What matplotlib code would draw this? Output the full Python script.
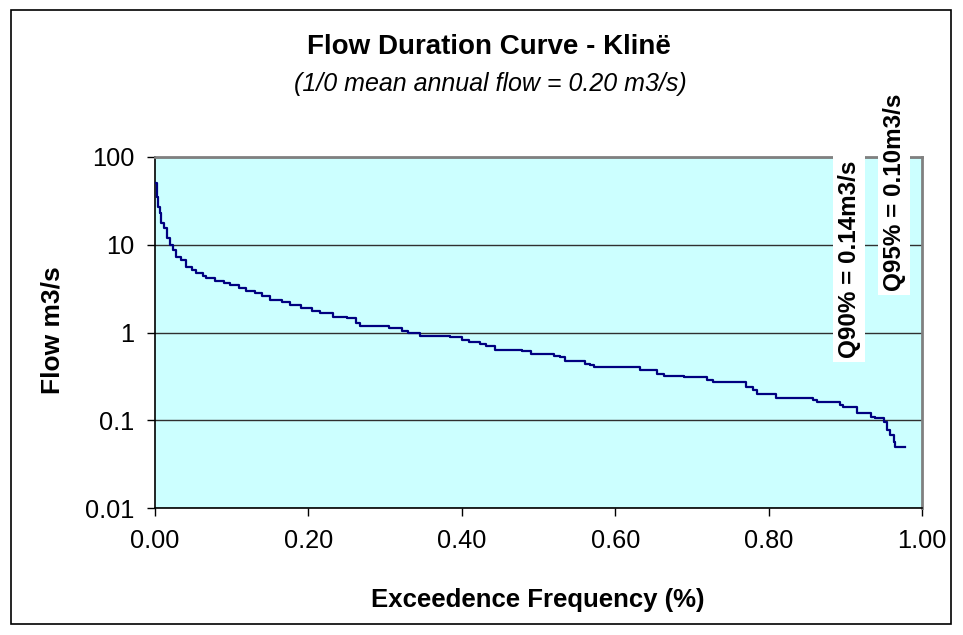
import matplotlib
matplotlib.use("Agg")
import matplotlib.pyplot as plt
from matplotlib.patches import Rectangle
from matplotlib.ticker import FixedLocator, NullLocator, FixedFormatter

# Exceedance frequency at which each flow level starts (step curve)
freq = [0.000, 0.002, 0.004, 0.006, 0.008, 0.012, 0.016, 0.020, 0.024, 0.028,
        0.034, 0.040, 0.048, 0.054, 0.062, 0.067, 0.078, 0.090, 0.098, 0.110,
        0.118, 0.130, 0.140, 0.150, 0.165, 0.176, 0.190, 0.205, 0.215, 0.232,
        0.250, 0.262, 0.267, 0.305, 0.322, 0.330, 0.345, 0.385, 0.400, 0.410,
        0.424, 0.432, 0.443, 0.478, 0.490, 0.520, 0.528, 0.535, 0.560, 0.567,
        0.572, 0.632, 0.654, 0.663, 0.690, 0.720, 0.728, 0.771, 0.780, 0.785,
        0.810, 0.858, 0.863, 0.893, 0.897, 0.915, 0.934, 0.939, 0.950, 0.954,
        0.958, 0.963, 0.965, 0.978]
flow = [50, 35, 27, 23, 17.7, 15.5, 12, 10, 8.7, 7.3,
        6.7, 5.6, 5.2, 4.75, 4.4, 4.2, 3.9, 3.7, 3.5, 3.2,
        3.0, 2.8, 2.6, 2.35, 2.2, 2.05, 1.9, 1.75, 1.65, 1.52,
        1.45, 1.3, 1.2, 1.12, 1.05, 0.98, 0.92, 0.88, 0.83, 0.78,
        0.74, 0.70, 0.64, 0.62, 0.57, 0.54, 0.52, 0.47, 0.44, 0.43,
        0.40, 0.37, 0.34, 0.32, 0.31, 0.29, 0.27, 0.24, 0.22, 0.20,
        0.18, 0.17, 0.16, 0.15, 0.14, 0.12, 0.11, 0.107, 0.096, 0.077,
        0.068, 0.057, 0.05, 0.05]

x_ticks = [0.0, 0.2, 0.4, 0.6, 0.8, 1.0]
x_tick_labels = ["0.00", "0.20", "0.40", "0.60", "0.80", "1.00"]
y_ticks = [0.01, 0.1, 1, 10, 100]
y_tick_labels = ["0.01", "0.1", "1", "10", "100"]

title = "Flow Duration Curve - Klinë"
subtitle = "(1/0 mean annual flow = 0.20 m3/s)"
q_labels = [(0.90, "Q90% = 0.14m3/s"), (0.95, "Q95% = 0.10m3/s")]

plt.rcParams['font.family'] = ['Liberation Sans', 'DejaVu Sans']

fig = plt.figure(figsize=(9.63, 6.35), dpi=100)
W, H = 963, 635
ax = fig.add_axes([155 / W, 1 - 508 / H, (922 - 155) / W, (508 - 157) / H])
ax.set_facecolor('#CCFFFF')

ax.plot(freq, flow, drawstyle='steps-post', color='#000080', lw=1.6, zorder=3)

ax.set_yscale('log')
ax.set_xlim(0, 1)
ax.set_ylim(0.01, 100)
ax.xaxis.set_major_locator(FixedLocator(x_ticks))
ax.xaxis.set_major_formatter(FixedFormatter(x_tick_labels))
ax.yaxis.set_major_locator(FixedLocator(y_ticks))
ax.yaxis.set_major_formatter(FixedFormatter(y_tick_labels))
ax.yaxis.set_minor_locator(NullLocator())
ax.xaxis.set_minor_locator(NullLocator())

ax.grid(axis='y', color='#303030', lw=1.0, zorder=1)
ax.tick_params(axis='both', direction='out', length=6, width=1.0, color='black',
               labelsize=18.3, pad=9)
for s in ['left', 'bottom']:
    ax.spines[s].set_color('black')
    ax.spines[s].set_linewidth(1.2)
for s in ['top', 'right']:
    ax.spines[s].set_color('#808080')
    ax.spines[s].set_linewidth(2.0)

# chart title block is centred on the whole chart area
fig.text(489 / W, 1 - 47 / H, title, ha='center', va='center', fontsize=20, fontweight='bold')
fig.text(490 / W, 1 - 84 / H, subtitle, ha='center', va='center', fontsize=18, style='italic')
fig.text(538 / W, 1 - 600 / H, "Exceedence Frequency (%)", ha='center', va='center',
         fontsize=18.5, fontweight='bold')
fig.text(53 / W, 1 - 330 / H, "Flow m3/s", ha='center', va='center', rotation=90,
         fontsize=19, fontweight='bold')

# rotated Q labels
fig.text(849 / W, 1 - 259 / H, q_labels[0][1], ha='center', va='center', rotation=90,
         fontsize=17.5, fontweight='bold',
         bbox=dict(facecolor='white', edgecolor='none', pad=3))
fig.text(894 / W, 1 - 192 / H, q_labels[1][1], ha='center', va='center', rotation=90,
         fontsize=17.5, fontweight='bold',
         bbox=dict(facecolor='white', edgecolor='none', pad=3))

# outer chart frame
fig.patches.append(Rectangle((11 / W, 1 - 624 / H), (951 - 11) / W, (624 - 10) / H,
                             transform=fig.transFigure, fill=False, edgecolor='black',
                             lw=1.2))

fig.savefig('out.png', dpi=100)
